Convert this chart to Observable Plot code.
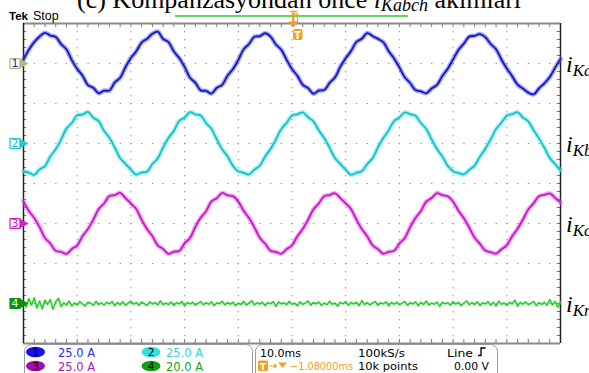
<!DOCTYPE html>
<html><head><meta charset="utf-8">
<script src="https://cdn.jsdelivr.net/npm/d3@7"></script>
<script src="https://cdn.jsdelivr.net/npm/@observablehq/plot@0.6"></script>
<style>
html,body{margin:0;padding:0;background:#fff;}
#wrap{position:relative;width:589px;height:373px;overflow:hidden;}
#chart,#over{position:absolute;left:0;top:0;}
</style></head>
<body>
<div id="wrap"><div id="chart"></div>
<svg id="over" width="589" height="373" font-family="DejaVu Sans, sans-serif"></svg></div>
<script>
// ---- Oscilloscope settings (Tek, 10.0 ms/div) ----
const channelIds = ["1", "2", "3", "4"];
const channelScales = [25, 25, 25, 20];          // A per division
const channelOffsets = [3, 1, -1, -3];            // ground marker, divisions
const channelNames = ["Ka", "Kb", "Kc", "Kn"];
const channelUnits = ["25.0 A", "25.0 A", "25.0 A", "20.0 A"];
const stepMain = 1;    // ms between samples (ch1-3)
const stepNeutral = 0.5; // ms between samples (ch4)

// ---- Currents (A) ----
const iKa = [2.5, 8.6, 13.4, 16.9, 19.2, 17.5, 16.6, 12.1, 8.8, 2.1, -3.4, -7.6, -13.5, -15.2, -18.6, -17.0, -16.9, -11.8, -8.9, -2.2,
  3.5, 7.6, 13.1, 15.4, 18.6, 19.9, 15.3, 13.4, 7.5, 3.4, -2.1, -8.9, -12.0, -16.8, -17.1, -18.8, -15.2, -13.3, -7.6, -3.5,
  2.2, 8.9, 12.2, 16.7, 17.1, 18.9, 16.8, 11.9, 8.6, 2.3, -3.5, -7.7, -13.3, -15.4, -18.9, -16.9, -16.6, -12.1, -8.7, -2.0,
  3.3, 7.8, 13.5, 15.5, 19.0, 17.2, 15.4, 13.3, 7.7, 3.2, -2.4, -8.6, -12.2, -16.6, -17.4, -18.6, -15.6, -13.4, -7.8, -3.3,
  2.6, 8.5, 12.4, 16.8, 17.3, 18.4, 16.5, 12.2, 8.9, 2.5, -3.1, -7.9, -13.2, -15.6, -18.2, -19.3, -15.5, -12.4, -8.5, -2.6,
  2.9];
const iKb = [-17.5, -18.2, -19.6, -16.2, -14.1, -8.0, -3.6, 2.4, 9.3, 12.8, 17.6, 18.1, 19.7, 16.1, 14.0, 7.9, 3.6, -2.5, -9.2, -12.7,
  -16.3, -19.5, -18.1, -17.6, -12.8, -9.3, -2.4, 3.5, 8.0, 14.1, 16.2, 19.6, 18.2, 17.5, 12.7, 9.2, 2.5, -3.6, -8.0, -14.0,
  -17.4, -18.3, -19.4, -16.3, -13.9, -8.1, -3.5, 2.5, 9.1, 12.9, 17.5, 18.2, 19.5, 16.4, 13.8, 8.1, 3.4, -2.6, -9.1, -12.8,
  -16.4, -19.6, -18.2, -17.4, -12.9, -9.2, -2.5, 3.4, 8.2, 14.0, 16.3, 19.4, 18.3, 17.3, 12.8, 9.0, 2.6, -3.5, -8.1, -13.9,
  -17.3, -18.4, -19.3, -16.5, -13.8, -8.2, -3.3, 2.6, 9.0, 13.0, 17.4, 18.3, 19.6, 16.2, 13.9, 8.3, 3.2, -2.7, -9.0, -12.9,
  -16.8];
const iKc = [13.8, 7.8, 3.5, -2.3, -9.0, -12.5, -17.1, -17.7, -19.0, -15.9, -13.7, -7.8, -3.5, 2.3, 9.0, 12.5, 17.2, 17.7, 19.1, 15.8,
  12.5, 9.0, 2.3, -3.5, -7.8, -13.7, -15.9, -19.0, -17.6, -17.2, -12.4, -9.1, -2.2, 3.6, 7.7, 13.8, 15.8, 19.1, 17.6, 17.1,
  13.7, 7.9, 3.4, -2.4, -8.9, -12.6, -17.0, -17.8, -18.9, -16.0, -13.6, -7.9, -3.4, 2.4, 8.9, 12.6, 17.1, 17.8, 18.9, 15.9,
  12.6, 8.9, 2.4, -3.4, -7.9, -13.6, -16.0, -18.9, -17.7, -17.1, -12.5, -9.0, -2.3, 3.5, 7.8, 13.7, 15.9, 19.0, 17.7, 17.0,
  13.6, 8.0, 3.3, -2.5, -8.8, -12.7, -16.9, -17.9, -18.8, -16.1, -13.5, -8.0, -3.3, 2.5, 8.8, 12.7, 17.0, 17.9, 18.8, 16.0,
  13.2];
const iKn = [0.6,-1.8,2.4,-0.9,2.8,-2.2,1.2,-2.6,1.6,-0.4,
  1.9,-2.8,0.8,2.6,-1.5,0.3,-0.8,1.1,-1.2,0.2,
  -0.7,0.9,-0.3,-1.2,0.6,0.2,-0.9,1.0,-0.5,0.3,
  -0.8,0.6,-0.2,0.9,-1.1,0.4,-0.6,0.8,-0.9,0.2,
  1.1,-0.4,0.5,-0.9,0.7,-0.1,-1.0,0.8,-0.3,0.5,
  -0.7,1.3,-0.6,0.2,-0.5,0.7,-0.9,0.4,-0.2,1.0,
  -1.2,0.5,-0.3,0.6,-0.8,0.1,0.9,-0.6,0.4,-0.4,
  0.8,-1.1,0.3,-0.1,1.1,-0.7,0.5,-0.4,0.6,-1.0,
  0.2,-0.5,1.0,-0.8,0.2,1.4,-0.7,0.4,-0.3,0.6,
  -1.0,0.5,-0.1,0.9,-1.4,0.7,-0.2,0.4,-0.6,1.0,
  -0.4,0.1,-1.1,0.8,-0.5,0.3,1.2,-0.8,0.5,-0.2,
  0.7,-0.9,0.2,-0.6,1.1,-0.4,0.2,-1.3,0.6,-0.1,
  0.9,-0.8,0.5,-0.3,0.6,-1.0,1.4,-0.5,0.4,-0.7,
  0.2,1.0,-0.9,0.3,-0.2,0.8,-1.2,0.5,-0.4,0.6,
  -0.6,0.1,1.0,-0.9,0.4,-0.2,0.8,-1.1,0.5,-0.5,
  1.2,-0.7,0.2,-0.4,0.7,-1.4,0.6,-0.1,0.4,-0.8,
  0.9,-0.3,0.5,-1.0,0.2,1.3,-0.6,0.4,-0.5,0.8,
  -1.0,0.3,-0.2,0.9,-0.8,0.5,-1.2,1.1,-0.4,0.2,
  -0.9,0.6,-0.2,1.6,-1.3,0.5,-0.4,0.8,-0.6,0.1,
  1.0,-1.1,0.4,-0.5,0.6,-0.8,1.9,-0.7,0.9,-1.8,
  0.7];

// ---- Styles ----
const core = ["#1616c0", "#16c2ca", "#ca16ca", "#20c420"];
const halo = ["#4456e8", "#5adfe4", "#e25ae6", "#66e066"];
const curves = ["catmull-rom", "catmull-rom", "catmull-rom", "linear"];
const markFill = ["#ffffff", "#ffffff", "#ffffff", "#0f8f0f"];
const markStroke = ["#b8b878", "#22c8cc", "#cc22cc", "#0f8f0f"];
const markText = ["#2222dd", "#22c0c8", "#c020c0", "#e8ffe8"];
const badgeFill = ["#1212f0", "#33e0e0", "#a010a8", "#10a010"];
const unitColor = ["#2a2ae6", "#30d4d8", "#a818a8", "#18a018"];

const series = [iKa, iKb, iKc, iKn];
const steps = [stepMain, stepMain, stepMain, stepNeutral];
const rows = series.map((vals, k) => vals.map((v, i) => ({t: i * steps[k], y: channelOffsets[k] + v / channelScales[k]})));
const channels = channelIds.map((id, k) => ({id, pos: channelOffsets[k], fill: markFill[k], stroke: markStroke[k], tc: markText[k]}));

const majorX = d3.range(10, 100, 10);
const majorY = d3.range(-3, 4, 1);
const minorX = d3.range(0, 100.01, 2);
const minorY = d3.range(-4, 4.01, 0.2);

const traceMarks = rows.flatMap((r, k) => [
  Plot.line(r, {x: "t", y: "y", stroke: halo[k], strokeWidth: k < 3 ? 4.6 : 2.6, strokeOpacity: 0.5, curve: curves[k]}),
  Plot.line(r, {x: "t", y: "y", stroke: core[k], strokeWidth: k < 3 ? 1.8 : 1.2, curve: curves[k]})
]);

const chart = Plot.plot({
  width: 589, height: 373,
  marginLeft: 23, marginRight: 29, marginTop: 23, marginBottom: 30,
  x: {domain: [0, 100], axis: null},
  y: {domain: [-4, 4], axis: null},
  style: {background: "transparent", overflow: "visible"},
  marks: [
    Plot.ruleX(majorX, {stroke: "#8c8c8c", strokeDasharray: "1.3,6.7"}),
    Plot.ruleY(majorY, {stroke: "#8c8c8c", strokeDasharray: "1.3,9.44"}),
    Plot.ruleX(minorX, {y1: 4, y2: 3.9, stroke: "#777"}),
    Plot.ruleX(minorX, {y1: -4, y2: -3.9, stroke: "#777"}),
    Plot.ruleY(minorY, {x1: 0, x2: 0.6, stroke: "#777"}),
    Plot.ruleY(minorY, {x1: 100, x2: 99.4, stroke: "#777"}),
    Plot.ruleY([4], {stroke: "#8a8a8a", strokeWidth: 2}),
    Plot.ruleY([-4], {stroke: "#8a8a8a", strokeWidth: 2}),
    Plot.ruleX([0], {stroke: "#222", strokeWidth: 1.5}),
    Plot.ruleX([100], {stroke: "#222", strokeWidth: 1.5}),
    ...traceMarks,
    Plot.dot(channels, {x: 0, y: "pos", dx: -1.5, symbol: "triangle", rotate: 90, r: 3.2, fill: "stroke", stroke: "stroke"}),
    Plot.dot(channels, {x: 0, y: "pos", dx: -8.5, symbol: "square", r: 5.6, fill: "fill", stroke: "stroke", strokeWidth: 1.2}),
    Plot.text(channels, {x: 0, y: "pos", dx: -8.5, text: "id", fill: "tc", fontSize: 11, fontFamily: "DejaVu Sans"})
  ]
});
document.getElementById("chart").appendChild(chart);

// ---- Screen annotations ----
const over = d3.select("#over");
const title = over.append("text").attr("x", 77).attr("y", 8)
  .attr("font-family", "Liberation Serif, serif").attr("font-size", 26);
title.append("tspan").text("(c) Kompanzasyondan önce ");
title.append("tspan").attr("font-style", "italic").text("i");
title.append("tspan").attr("font-style", "italic").attr("font-size", 18).attr("dy", 3).text("Kabch");
title.append("tspan").attr("dy", -3).text(" akımları");

over.append("line").attr("x1", 175).attr("x2", 408).attr("y1", 16).attr("y2", 16)
  .attr("stroke", "#35c035").attr("stroke-width", 1.5);
over.append("text").attr("x", 9).attr("y", 20).attr("font-family", "Liberation Sans, sans-serif")
  .attr("font-weight", "bold").attr("font-size", 11.5).text("Tek");
over.append("text").attr("x", 33).attr("y", 20).attr("font-family", "Liberation Sans, sans-serif")
  .attr("font-size", 12.5).text("Stop");

// trigger position markers
const orange = "#f0a028";
over.append("path").attr("d", "M290,11.5 H297 M293.5,11.5 V22").attr("stroke", orange).attr("stroke-width", 1.6).attr("fill", "none");
over.append("rect").attr("x", 292.5).attr("y", 14).attr("width", 5).attr("height", 8).attr("fill", "none").attr("stroke", orange).attr("stroke-width", 1.2);
over.append("path").attr("d", "M288.5,21.5 H298.5 L293.5,27.5 Z").attr("fill", orange);
over.append("rect").attr("x", 293).attr("y", 29).attr("width", 9.5).attr("height", 11).attr("rx", 2).attr("fill", orange);
over.append("text").attr("x", 297.7).attr("y", 38.5).attr("text-anchor", "middle").attr("fill", "#fff")
  .attr("font-size", 10).attr("font-weight", "bold").text("T");

// right-hand labels
channelNames.forEach((nm, k) => {
  const yb = 23 + (4 - channelOffsets[k]) * 40 + 9;
  const t = over.append("text").attr("x", 566).attr("y", yb)
    .attr("font-family", "Liberation Serif, serif").attr("font-style", "italic").attr("font-size", 24);
  t.append("tspan").text("i");
  t.append("tspan").attr("font-size", 17).attr("dy", 4).text(nm);
});

// status boxes
over.append("rect").attr("x", 24.5).attr("y", 344.5).attr("width", 228).attr("height", 40).attr("rx", 7)
  .attr("fill", "none").attr("stroke", "#999");
over.append("rect").attr("x", 255.5).attr("y", 344.5).attr("width", 242).attr("height", 40).attr("rx", 7)
  .attr("fill", "none").attr("stroke", "#999");
const badgeX = [35.5, 151], unitX = [58, 166];
channelIds.forEach((id, k) => {
  const col = k % 2, row = Math.floor(k / 2);
  const cy = 352 + row * 14;
  over.append("ellipse").attr("cx", badgeX[col]).attr("cy", cy).attr("rx", 9.5).attr("ry", 5.3).attr("fill", badgeFill[k]);
  over.append("text").attr("x", badgeX[col]).attr("y", cy + 4).attr("text-anchor", "middle")
    .attr("font-size", 10.5).attr("fill", "#000").text(id);
  over.append("text").attr("x", unitX[col]).attr("y", cy + 5).attr("font-size", 11.5)
    .attr("fill", unitColor[k]).text(channelUnits[k]);
});
const st = [["10.0ms", 260, 357, 41], ["100kS/s", 358, 357, 47], ["Line", 447, 357, 26],
  ["10k points", 358, 370, 60], ["0.00 V", 454, 370, 35]];
st.forEach(([s, x, y, w]) => over.append("text").attr("x", x).attr("y", y).attr("font-size", 11)
  .attr("textLength", w).attr("lengthAdjust", "spacingAndGlyphs").attr("fill", "#000").text(s));
over.append("text").attr("x", 290).attr("y", 370).attr("font-size", 11).attr("fill", orange)
  .attr("textLength", 63).attr("lengthAdjust", "spacingAndGlyphs").text("−1.08000ms");
over.append("path").attr("d", "M478,355.5 H481 V348 H485.5").attr("fill", "none").attr("stroke", "#000").attr("stroke-width", 1.3);
over.append("rect").attr("x", 258).attr("y", 360.5).attr("width", 10).attr("height", 10.5).attr("rx", 1.5).attr("fill", orange);
over.append("text").attr("x", 263).attr("y", 369.5).attr("text-anchor", "middle").attr("fill", "#fff")
  .attr("font-size", 9.5).attr("font-weight", "bold").text("T");
over.append("path").attr("d", "M269,366 H276 M274,364 L276.5,366 L274,368").attr("stroke", orange).attr("stroke-width", 1.2).attr("fill", "none");
over.append("path").attr("d", "M278,362.5 H287 L282.5,368 Z").attr("fill", orange);
</script>
</body></html>
